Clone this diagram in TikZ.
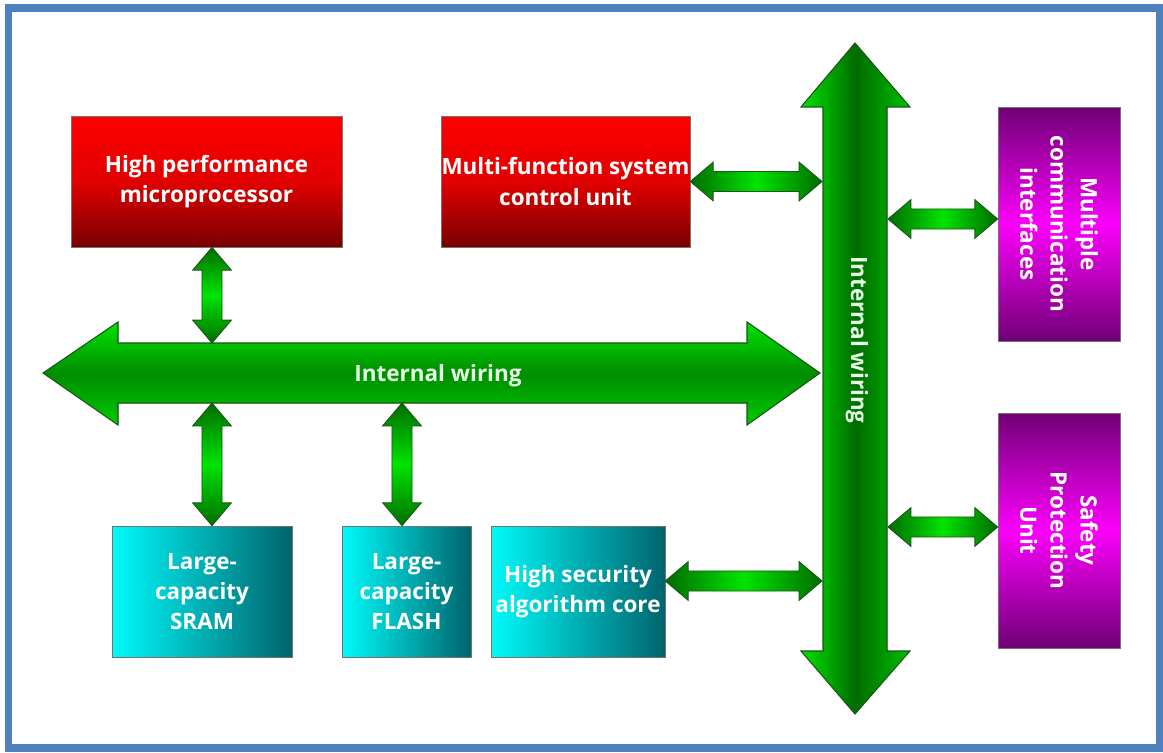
\documentclass[tikz,border=0pt]{standalone}
\usepackage{fontspec}
\setmainfont{Open Sans}
\usetikzlibrary{calc}
\definecolor{framecol}{RGB}{79,129,189}
\definecolor{redtop}{RGB}{255,0,0}
\definecolor{redbot}{RGB}{120,0,0}
\definecolor{cyanl}{RGB}{0,250,250}
\definecolor{tealr}{RGB}{0,100,108}
\definecolor{magmid}{RGB}{250,0,250}
\definecolor{purp}{RGB}{112,0,118}
\definecolor{grlight}{RGB}{0,228,0}
\definecolor{grdark}{RGB}{0,108,0}
\definecolor{grline}{RGB}{25,85,25}

\newcommand\vlink[2]{\path[linkv] let \p1=(#1), \p2=(#2) in
  (\x1,\y1) -- (\x1+11pt,\y1-13pt) -- (\x1+5.7pt,\y1-13pt) -- (\x1+5.7pt,\y2+13pt)
  -- (\x1+11pt,\y2+13pt) -- (\x1,\y2) -- (\x1-11pt,\y2+13pt) -- (\x1-5.7pt,\y2+13pt)
  -- (\x1-5.7pt,\y1-13pt) -- (\x1-11pt,\y1-13pt) -- cycle;}
\newcommand\hlink[2]{\path[linkh] let \p1=(#1), \p2=(#2) in
  (\x1,\y1) -- (\x1+13pt,\y1+11pt) -- (\x1+13pt,\y1+5.7pt) -- (\x2-13pt,\y1+5.7pt)
  -- (\x2-13pt,\y1+11pt) -- (\x2,\y1) -- (\x2-13pt,\y1-11pt) -- (\x2-13pt,\y1-5.7pt)
  -- (\x1+13pt,\y1-5.7pt) -- (\x1+13pt,\y1-11pt) -- cycle;}

\begin{document}
\begin{tikzpicture}[x=0.02cm,y=-0.02cm,
    box/.style={draw=black!55,line width=0.4pt,text=white,align=center,inner sep=0pt,
      font=\bfseries\fontsize{12.8}{17.2}\selectfont,minimum height=2.62cm},
    redbox/.style={box,top color=redtop,bottom color=redbot,middle color=red!88!black},
    cyanbox/.style={box,left color=cyanl,right color=tealr},
    magbox/.style={box,rotate=-90,top color=purp,bottom color=purp,middle color=magmid,
      minimum height=2.44cm},
    linkv/.style={draw=grline,line width=0.5pt,top color=grdark,bottom color=grdark,middle color=grlight},
    linkh/.style={draw=grline,line width=0.5pt,left color=grdark,right color=grdark,middle color=grlight},
    bus/.style={draw=grline,line width=0.6pt},
    buslabel/.style={text=green!10!white,font=\bfseries\fontsize{12.8}{17}\selectfont,inner sep=1pt}]
  \useasboundingbox (0,0) rectangle (1163,753);
  \draw[framecol,line width=4pt] (8.5,8) rectangle (1159,748);

  \filldraw[bus,left color=grlight,right color=green!75!black,middle color=grdark]
    (855,43) -- (910,107) -- (887,107) -- (887,651) -- (910,651) -- (855,714)
    -- (801,651) -- (823,651) -- (823,107) -- (801,107) -- cycle;
  \filldraw[bus,top color=grlight,bottom color=green!80!black,middle color=green!55!black]
    (43,373) -- (118,322) -- (118,343) -- (747,343) -- (747,322) -- (820,373)
    -- (747,425) -- (747,403) -- (118,403) -- (118,425) -- cycle;
  \node[buslabel] (hbus) at (438,376) {Internal wiring};
  \node[buslabel,rotate=-90] (vbus) at (857,340) {Internal wiring};

  \node[redbox,minimum width=5.42cm] (cpu) at (206.5,181.5) {High performance\\microprocessor};
  \node[redbox,minimum width=4.98cm] (ctrl) at (565.5,181.5) {Multi-function system\\control unit};
  \node[cyanbox,minimum width=3.6cm] (sram) at (202,591.5) {Large-\\capacity\\SRAM};
  \node[cyanbox,minimum width=2.58cm] (flash) at (406.5,591.5) {Large-\\capacity\\FLASH};
  \node[cyanbox,minimum width=3.48cm] (algo) at (578,591.5) {High security\\algorithm core};
  \node[magbox,minimum width=4.68cm] (comm) at (1059,224) {Multiple\\communication\\interfaces};
  \node[magbox,minimum width=4.7cm] (safety) at (1059,530.5) {Safety\\Protection\\Unit};

  \coordinate (hn1) at (212,343);
  \coordinate (hs1) at (212,403);
  \coordinate (hs2) at (402,403);
  \coordinate (vw1) at (822,182);
  \coordinate (vw2) at (822,581);
  \coordinate (ve1) at (888,219);
  \coordinate (ve2) at (888,527);

  \vlink{cpu.south -| hn1}{hn1}
  \vlink{hs1}{sram.north -| hs1}
  \vlink{hs2}{flash.north -| hs2}
  \hlink{ctrl.east}{vw1}
  \hlink{algo.east |- vw2}{vw2}
  \hlink{ve1}{ve1 -| comm.south}
  \hlink{ve2}{ve2 -| safety.south}
\end{tikzpicture}
\end{document}
